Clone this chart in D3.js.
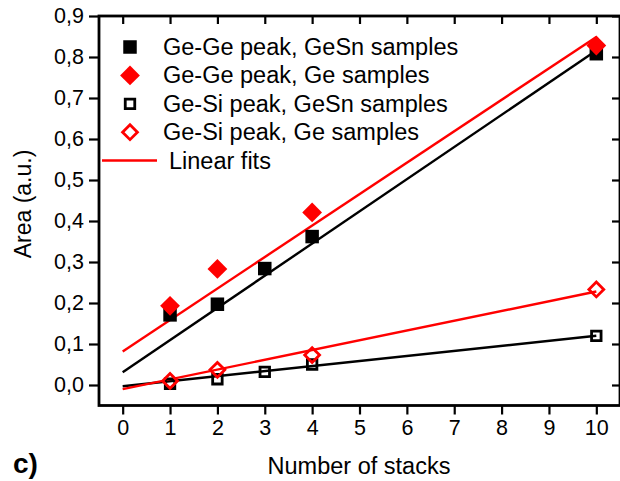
<!DOCTYPE html>
<html>
<head>
<meta charset="utf-8">
<script src="https://cdn.jsdelivr.net/npm/d3@7"></script>
<style>
  body { margin: 0; background: #fff; }
  svg { display: block; font-family: Arial, "Liberation Sans", sans-serif; }
</style>
</head>
<body>
<svg id="chart" width="620" height="481"></svg>
<script>
// data
const stacksGeSn = [1, 2, 3, 4, 10]
const stacksGe = [1, 2, 4, 10]
const geGeGeSn = [0.171, 0.197, 0.284, 0.362, 0.808]
const geGeGe = [0.193, 0.283, 0.421, 0.828]
const geSiGeSn = [0.003, 0.014, 0.032, 0.050, 0.120]
const geSiGe = [0.010, 0.037, 0.073, 0.233]

// linear fits, value at x = 0 and x = 10
const fitX = [0, 10]
const fitGeGeGeSn = [0.031, 0.816]
const fitGeGeGe = [0.082, 0.849]
const fitGeSiGeSn = [-0.003, 0.120]
const fitGeSiGe = [-0.010, 0.228]

const xTicks = [0, 1, 2, 3, 4, 5, 6, 7, 8, 9, 10]
const yTicks = [0, 0.1, 0.2, 0.3, 0.4, 0.5, 0.6, 0.7, 0.8, 0.9]

const legendLabels = [
  'Ge-Ge peak, GeSn samples',
  'Ge-Ge peak, Ge samples',
  'Ge-Si peak, GeSn samples',
  'Ge-Si peak, Ge samples',
  'Linear fits'
]

const svg = d3.select('#chart')
const plotLeft = 99, plotRight = 620, plotTop = 16, plotBottom = 405.5

const x = d3.scaleLinear().domain([-0.5, 10.5]).range([plotLeft, plotRight])
const y = d3.scaleLinear().domain([-0.05, 0.9]).range([plotBottom, plotTop])

const fmt = d => d.toFixed(1).replace('.', ',')

// axes
const axisStyle = g => {
  g.select('.domain').remove()
  g.selectAll('.tick line').attr('stroke', '#000').attr('stroke-width', 2.2)
  g.selectAll('.tick text').attr('font-size', 21.5).attr('fill', '#000')
    .attr('font-family', 'Arial, "Liberation Sans", sans-serif')
}

svg.append('g')
  .attr('transform', `translate(0, ${plotBottom})`)
  .call(d3.axisBottom(x).tickValues(xTicks).tickSize(9).tickPadding(5).tickFormat(d3.format('d')))
  .call(axisStyle)

svg.append('g')
  .attr('transform', `translate(0, ${plotTop})`)
  .call(d3.axisBottom(x).tickValues(xTicks).tickSize(8).tickFormat(''))
  .call(axisStyle)

svg.append('g')
  .attr('transform', `translate(${plotLeft}, 0)`)
  .call(d3.axisLeft(y).tickValues(yTicks).tickSize(10).tickPadding(5).tickFormat(fmt))
  .call(axisStyle)

svg.append('g')
  .attr('transform', `translate(${plotRight}, 0)`)
  .call(d3.axisLeft(y).tickValues(yTicks).tickSize(8).tickFormat(''))
  .call(axisStyle)

// frame
svg.append('rect')
  .attr('x', plotLeft).attr('y', plotTop)
  .attr('width', plotRight - plotLeft).attr('height', plotBottom - plotTop)
  .attr('fill', 'none').attr('stroke', '#000').attr('stroke-width', 2.8)

// fit lines
const line = d3.line().x(d => x(d[0])).y(d => y(d[1]))
const fits = [
  { v: fitGeGeGeSn, c: '#000' },
  { v: fitGeGeGe, c: '#ff0000' },
  { v: fitGeSiGeSn, c: '#000' },
  { v: fitGeSiGe, c: '#ff0000' }
]
fits.forEach(f => {
  svg.append('path')
    .attr('d', line(fitX.map((xv, i) => [xv, f.v[i]])))
    .attr('fill', 'none').attr('stroke', f.c).attr('stroke-width', 2.4)
})

// markers
const sq = s => d3.symbol().type(d3.symbolSquare).size(s * s)()
const series = [
  { xs: stacksGeSn, ys: geGeGeSn, color: '#000', filled: true, rot: 0, s: 13.5 },
  { xs: stacksGe, ys: geGeGe, color: '#ff0000', filled: true, rot: 45, s: 14 },
  { xs: stacksGeSn, ys: geSiGeSn, color: '#000', filled: false, rot: 0, s: 9.5 },
  { xs: stacksGe, ys: geSiGe, color: '#ff0000', filled: false, rot: 45, s: 10.5 }
]

const drawMarker = (g, sr, cx, cy) => {
  g.append('path')
    .attr('d', sq(sr.s))
    .attr('transform', `translate(${cx}, ${cy}) rotate(${sr.rot})`)
    .attr('fill', sr.filled ? sr.color : 'none')
    .attr('stroke', sr.filled ? 'none' : sr.color)
    .attr('stroke-width', 2.8)
}

series.forEach(sr => {
  const g = svg.append('g')
  sr.xs.forEach((xv, i) => drawMarker(g, sr, x(xv), y(sr.ys[i])))
})

// legend
const legend = svg.append('g')
series.forEach((sr, i) => {
  const cy = 47 + i * 28.4
  drawMarker(legend, sr, 130, cy)
  legend.append('text')
    .attr('x', 163).attr('y', cy + 8)
    .attr('font-size', 23.5).text(legendLabels[i])
})
legend.append('line')
  .attr('x1', 102).attr('x2', 157).attr('y1', 160.5).attr('y2', 160.5)
  .attr('stroke', '#ff0000').attr('stroke-width', 2.4)
legend.append('text')
  .attr('x', 169).attr('y', 168.5)
  .attr('font-size', 23.5).text(legendLabels[4])

// axis titles
svg.append('text')
  .attr('x', 359).attr('y', 474)
  .attr('text-anchor', 'middle').attr('font-size', 23.5)
  .text('Number of stacks')

svg.append('text')
  .attr('transform', 'translate(31, 204) rotate(-90)')
  .attr('text-anchor', 'middle').attr('font-size', 23)
  .text('Area (a.u.)')

svg.append('text')
  .attr('x', 13).attr('y', 473)
  .attr('font-size', 28).attr('font-weight', 'bold')
  .text('c)')
</script>
</body>
</html>
